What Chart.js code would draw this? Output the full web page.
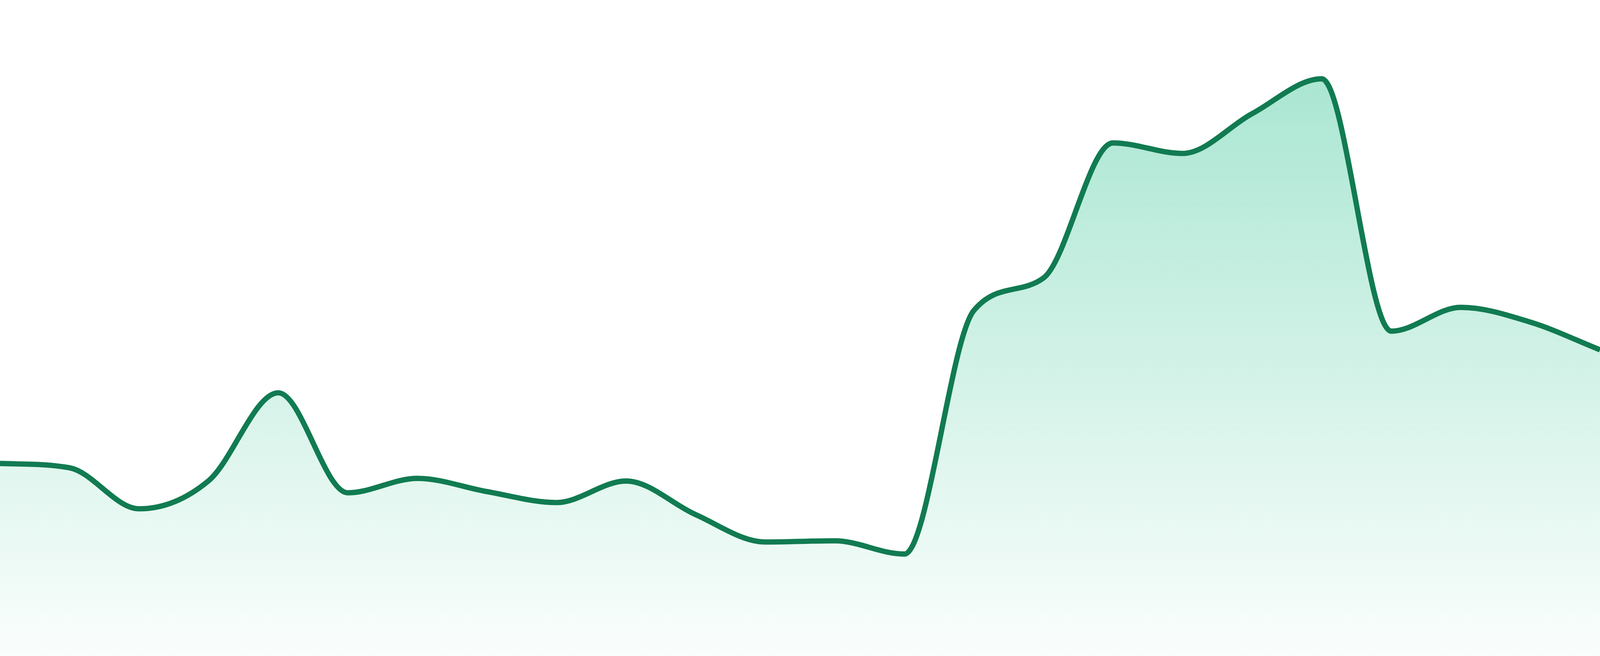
<!DOCTYPE html>
<html>
<head>
<meta charset="utf-8">
<script src="https://cdn.jsdelivr.net/npm/chart.js@4.4.1/dist/chart.umd.min.js"></script>
<style>
  html, body { margin: 0; padding: 0; background: #ffffff; overflow: hidden; }
  #wrap { position: fixed; left: 0; top: 0; width: 100vw; height: 100vh; }
</style>
</head>
<body>
<div id="wrap"><canvas id="c"></canvas></div>
<script>
// Categories (24 evenly spaced periods)
const labels = ['1','2','3','4','5','6','7','8','9','10','11','12',
                '13','14','15','16','17','18','19','20','21','22','23','24'];
// Series values
const values = [29.35, 28.69, 22.44, 26.73, 40.12, 24.88, 27.08, 25.06,
                23.39, 26.67, 21.55, 17.38, 17.56, 15.54, 52.68, 57.62,
                78.21, 76.61, 82.68, 87.98, 49.52, 53.15, 50.89, 46.67];
const yMin = 0;
const yMax = 100;

const lineColor = '#117b51';
// line thickness relative to a 4800px-wide picture
const lineWidth = 16 * window.innerWidth / 4800;

const ctx = document.getElementById('c').getContext('2d');

function fillGradient(context) {
  const chart = context.chart;
  const area = chart.chartArea;
  if (!area) return 'rgba(16,185,129,0.2)';
  const g = chart.ctx.createLinearGradient(0, area.top, 0, area.bottom);
  g.addColorStop(0, 'rgba(16,185,129,0.40)');
  g.addColorStop(1, 'rgba(16,185,129,0.02)');
  return g;
}

new Chart(ctx, {
  type: 'line',
  data: {
    labels: labels,
    datasets: [{
      data: values,
      borderColor: lineColor,
      borderWidth: lineWidth,
      backgroundColor: fillGradient,
      fill: 'start',
      pointRadius: 0,
      pointHoverRadius: 0,
      cubicInterpolationMode: 'monotone'
    }]
  },
  options: {
    responsive: true,
    maintainAspectRatio: false,
    animation: false,
    layout: { padding: 0 },
    plugins: { legend: { display: false }, tooltip: { enabled: false } },
    scales: {
      x: { display: false, offset: false, grid: { display: false } },
      y: { display: false, min: yMin, max: yMax, grid: { display: false } }
    }
  }
});
</script>
</body>
</html>
